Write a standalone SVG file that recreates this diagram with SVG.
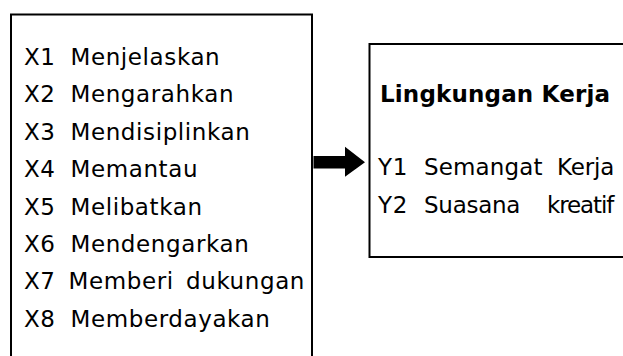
<svg xmlns="http://www.w3.org/2000/svg" width="623" height="356" viewBox="0 0 623 356">
<style>
.box{fill:#fff;stroke:#000;stroke-width:2}
.t{font-family:"DejaVu Sans","Verdana",sans-serif;font-size:23px;fill:#000;letter-spacing:0.6px}
.b{font-family:"DejaVu Sans","Verdana",sans-serif;font-size:23px;font-weight:bold;fill:#000}
</style>
<rect width="623" height="356" fill="#fff"/>
<g id="left-box">
<path class="box" d="M11,360 V14.5 H312 V360"/>
<text class="t" x="24" y="65">X1</text><text class="t" x="70.5" y="65">Menjelaskan</text>
<text class="t" x="24" y="102.4">X2</text><text class="t" x="70.5" y="102.4">Mengarahkan</text>
<text class="t" x="24" y="139.8">X3</text><text class="t" x="70.5" y="139.8">Mendisiplinkan</text>
<text class="t" x="24" y="177.2">X4</text><text class="t" x="70.5" y="177.2">Memantau</text>
<text class="t" x="24" y="214.6">X5</text><text class="t" x="70.5" y="214.6">Melibatkan</text>
<text class="t" x="24" y="252">X6</text><text class="t" x="70.5" y="252">Mendengarkan</text>
<text class="t" x="24" y="289.4">X7</text><text class="t" x="68.5" y="289.4">Memberi</text><text class="t" x="186" y="289.4">dukungan</text>
<text class="t" x="24" y="326.8">X8</text><text class="t" x="70.5" y="326.8">Memberdayakan</text>
</g>
<g id="right-box">
<path class="box" d="M630,44 H369.5 V257 H630"/>
<text class="b" x="380" y="101.7" textLength="230">Lingkungan Kerja</text>
<text class="t" x="378" y="175">Y1</text><text class="t" x="424" y="175" textLength="119">Semangat</text><text class="t" x="557" y="175" textLength="58">Kerja</text>
<text class="t" x="378" y="212.5">Y2</text><text class="t" x="424" y="212.5" textLength="97">Suasana</text><text class="t" x="547" y="212.5" textLength="68">kreatif</text>
</g>
<g id="connectors">
<polygon points="313.5,156 345,156 345,146.7 365,162.3 345,176.7 345,168.5 313.5,168.5" fill="#000"/>
</g>
</svg>
